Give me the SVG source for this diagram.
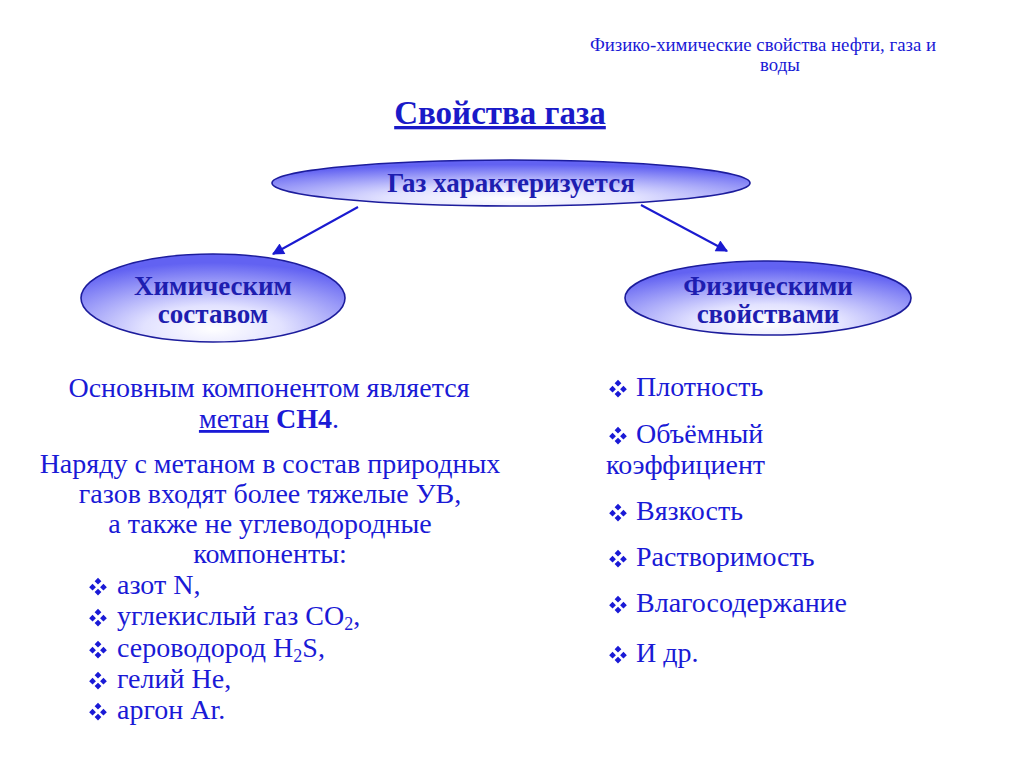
<svg xmlns="http://www.w3.org/2000/svg" width="1024" height="767" viewBox="0 0 1024 767">
<defs>
<radialGradient id="eg" cx="50%" cy="85%" r="75%" fx="50%" fy="85%">
<stop offset="0" stop-color="#ffffff"/>
<stop offset="0.35" stop-color="#e2e2ff"/>
<stop offset="1" stop-color="#6262f2"/>
</radialGradient>
<marker id="ah2" viewBox="0 0 10 10" refX="9" refY="5" markerWidth="14" markerHeight="12" orient="auto" markerUnits="userSpaceOnUse">
<path d="M0,0 L10,5 L0,10 z" fill="#1a1ad0"/>
</marker>
<g id="bul">
<path transform="scale(1.3)" d="M0,-4 L2.6,-1.4 L0,1.2 L-2.6,-1.4 z M0,4.4 L2.6,7 L0,9.6 L-2.6,7 z M-4.2,0.6 L-1.6,3.2 L-4.2,5.8 L-6.8,3.2 z M4.2,0.6 L6.8,3.2 L4.2,5.8 L1.6,3.2 z" fill="#1a1ad6"/>
</g>
</defs>
<style>
.t{font-family:"Liberation Serif","Times New Roman",serif;fill:#1a1ad6}
.b{font-weight:bold;fill:#1e1eb0}
.c{text-anchor:middle}
.el{fill:url(#eg);stroke:#1c1c9c;stroke-width:1.6}
.body{font-size:28px}
.lab{font-size:27px}
</style>
<rect width="1024" height="767" fill="#ffffff"/>
<g id="header">
<text class="t c" x="763" y="51" font-size="18.8">Физико-химические свойства нефти, газа и</text>
<text class="t c" x="780" y="71" font-size="18.8">воды</text>
</g>
<g id="title">
<text class="t b c" x="500" y="124" font-size="33" text-decoration="underline" style="fill:#1a1ac8">Свойства газа</text>
</g>
<g id="connectors">
<line x1="358" y1="207" x2="273" y2="254" stroke="#1a1ad0" stroke-width="2" marker-end="url(#ah2)"/>
<line x1="641" y1="205" x2="727" y2="251" stroke="#1a1ad0" stroke-width="2" marker-end="url(#ah2)"/>
</g>
<g id="node-gas">
<ellipse class="el" cx="511" cy="183" rx="239" ry="23"/>
<text class="t b c lab" x="511" y="192">Газ характеризуется</text>
</g>
<g id="node-chem">
<ellipse class="el" cx="213" cy="298" rx="132" ry="44"/>
<text class="t b c lab" x="213" y="295">Химическим</text>
<text class="t b c lab" x="213" y="323">составом</text>
</g>
<g id="node-phys">
<ellipse class="el" cx="768" cy="298" rx="143" ry="37"/>
<text class="t b c lab" x="768" y="295">Физическими</text>
<text class="t b c lab" x="768" y="323">свойствами</text>
</g>
<g id="left-text">
<text class="t c body" x="269" y="397">Основным компонентом является</text>
<text class="t c body" x="269" y="428"><tspan text-decoration="underline">метан</tspan> <tspan font-weight="bold">CH4</tspan>.</text>
<text class="t c body" x="270" y="473">Наряду с метаном в состав природных</text>
<text class="t c body" x="270" y="503">газов входят более тяжелые УВ,</text>
<text class="t c body" x="270" y="533">а также не углеводородные</text>
<text class="t c body" x="270" y="563">компоненты:</text>
<use href="#bul" x="98" y="583"/>
<text class="t body" x="117" y="594">азот N,</text>
<use href="#bul" x="98" y="614"/>
<text class="t body" x="117" y="625">углекислый газ CO<tspan font-size="18" dy="5">2</tspan><tspan dy="-5">,</tspan></text>
<use href="#bul" x="98" y="646"/>
<text class="t body" x="117" y="657">сероводород H<tspan font-size="18" dy="5">2</tspan><tspan dy="-5">S,</tspan></text>
<use href="#bul" x="98" y="677"/>
<text class="t body" x="117" y="688">гелий He,</text>
<use href="#bul" x="98" y="708"/>
<text class="t body" x="117" y="719">аргон Ar.</text>
</g>
<g id="right-text">
<use href="#bul" x="618" y="385"/>
<text class="t body" x="636" y="396">Плотность</text>
<use href="#bul" x="618" y="432"/>
<text class="t body" x="636" y="443">Объёмный</text>
<text class="t body" x="606" y="474">коэффициент</text>
<use href="#bul" x="618" y="509"/>
<text class="t body" x="636" y="520">Вязкость</text>
<use href="#bul" x="618" y="555"/>
<text class="t body" x="636" y="566">Растворимость</text>
<use href="#bul" x="618" y="601"/>
<text class="t body" x="636" y="612">Влагосодержание</text>
<use href="#bul" x="618" y="651"/>
<text class="t body" x="636" y="662">И др.</text>
</g>
</svg>
